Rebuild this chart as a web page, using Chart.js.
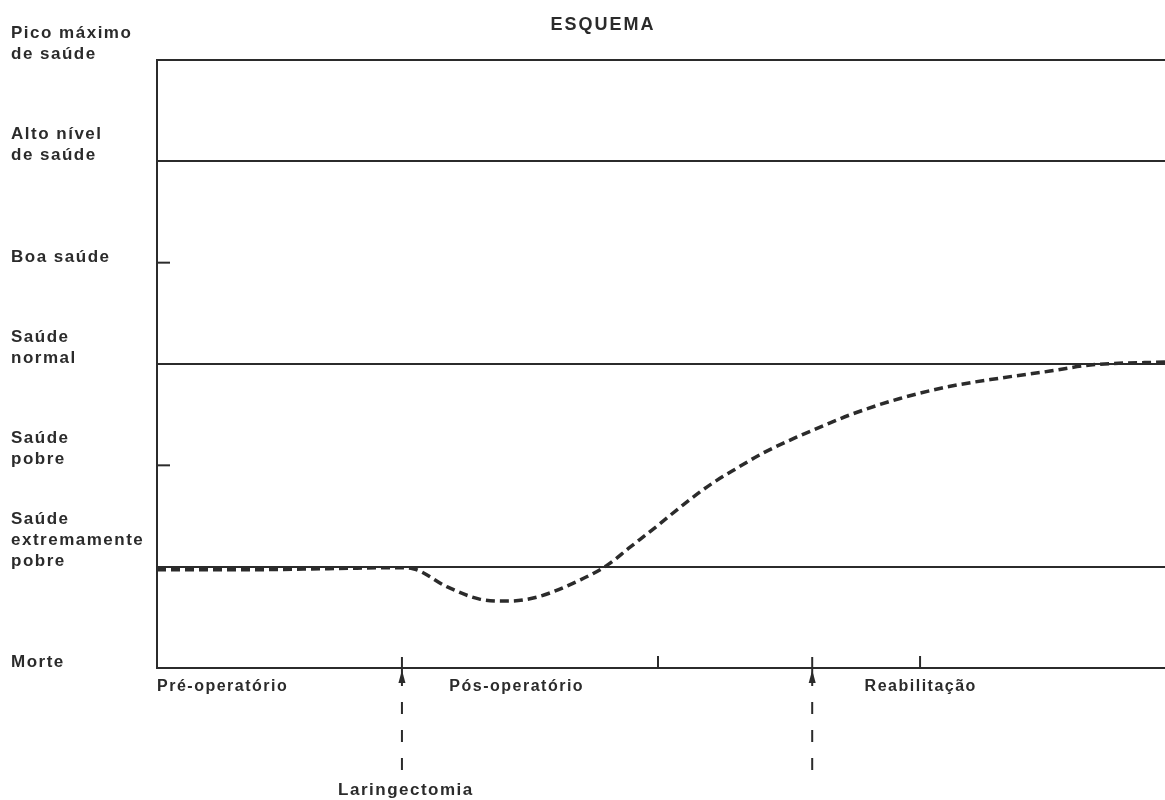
<!DOCTYPE html>
<html>
<head>
<meta charset="utf-8">
<script src="https://cdn.jsdelivr.net/npm/chart.js@4"></script>
<style>
  body { margin: 0; background: #fff; }
</style>
</head>
<body>
<canvas id="esquema" width="1165" height="800"></canvas>
<script>
// níveis de saúde (0 = Morte ... 6 = Pico máximo)
const levelLabels = [
  ["Morte"],
  ["Saúde", "extremamente", "pobre"],
  ["Saúde", "pobre"],
  ["Saúde", "normal"],
  ["Boa saúde"],
  ["Alto nível", "de saúde"],
  ["Pico máximo", "de saúde"],
];
const gridLevels = [1, 3, 5, 6];
const tickLevels = [2, 4];

// fases no eixo do tempo (0..100)
const phaseLabels = ["Pré-operatório", "Pós-operatório", "Reabilitação"];
const phaseStart = [0, 29, 70.2];
const eventX = [24.3, 65.0];
const eventLabels = ["Laringectomia", ""];
const minorTicksX = [49.7, 75.7];

// curva do estado de saúde
const curveX = [0, 9, 17, 24, 25.4, 28.8, 32, 34.7, 37.7, 42, 44.6, 46.9, 49.6, 52.2, 54.9, 57.5, 60.1, 63.5, 66.1, 68.8, 73.7, 78.7, 83.6, 88.6, 92.6, 100];
const curveY = [0.97, 0.97, 0.98, 0.99, 0.98, 0.8, 0.68, 0.66, 0.7, 0.87, 1.01, 1.19, 1.4, 1.61, 1.81, 1.97, 2.12, 2.28, 2.39, 2.5, 2.66, 2.78, 2.86, 2.93, 2.99, 3.02];

const ink = "#2b2b2b";
const font = '"Liberation Sans", Arial, sans-serif';

const drawExtras = {
  id: "drawExtras",
  afterDraw(chart) {
    const ctx = chart.ctx;
    const x = chart.scales.x;
    const y = chart.scales.y;
    const area = chart.chartArea;
    ctx.save();
    ctx.fillStyle = ink;
    ctx.strokeStyle = ink;

    // título
    ctx.letterSpacing = "2px";
    ctx.font = "bold 18px " + font;
    ctx.textAlign = "center";
    ctx.textBaseline = "alphabetic";
    ctx.fillText("ESQUEMA", 603, 30);

    // rótulos dos níveis
    ctx.letterSpacing = "1.5px";
    ctx.font = "bold 17px " + font;
    ctx.textAlign = "left";
    levelLabels.forEach((lines, i) => {
      const py = y.getPixelForValue(i) - 1;
      lines.forEach((t, j) => {
        ctx.fillText(t, 11, py - (lines.length - 1 - j) * 21);
      });
    });

    // marcas curtas no eixo y
    ctx.lineWidth = 2;
    tickLevels.forEach((v) => {
      const py = y.getPixelForValue(v);
      ctx.beginPath();
      ctx.moveTo(area.left, py);
      ctx.lineTo(area.left + 13, py);
      ctx.stroke();
    });

    // marcas curtas no eixo x
    minorTicksX.forEach((v) => {
      const px = x.getPixelForValue(v);
      ctx.beginPath();
      ctx.moveTo(px, area.bottom);
      ctx.lineTo(px, area.bottom - 12);
      ctx.stroke();
    });

    // setas dos eventos
    eventX.forEach((v, i) => {
      const px = x.getPixelForValue(v);
      const b = area.bottom;
      ctx.lineWidth = 2;
      ctx.beginPath();
      ctx.moveTo(px, b - 11);
      ctx.lineTo(px, b + 18);
      ctx.stroke();
      ctx.beginPath();
      ctx.moveTo(px, b + 2);
      ctx.lineTo(px - 3.5, b + 15);
      ctx.lineTo(px + 3.5, b + 15);
      ctx.closePath();
      ctx.fill();
      ctx.setLineDash([12, 16]);
      ctx.beginPath();
      ctx.moveTo(px, b + 34);
      ctx.lineTo(px, b + 104);
      ctx.stroke();
      ctx.setLineDash([]);
      if (eventLabels[i]) {
        ctx.font = "bold 17px " + font;
        ctx.textAlign = "center";
        ctx.fillText(eventLabels[i], px + 4, b + 127);
      }
    });

    // rótulos das fases
    ctx.font = "bold 16px " + font;
    ctx.textAlign = "left";
    phaseLabels.forEach((t, i) => {
      ctx.fillText(t, x.getPixelForValue(phaseStart[i]), area.bottom + 23);
    });
    ctx.restore();
  },
};

new Chart(document.getElementById("esquema"), {
  type: "line",
  data: {
    datasets: [
      {
        data: curveX.map((v, i) => ({ x: v, y: curveY[i] })),
        borderColor: ink,
        borderWidth: 3.5,
        borderDash: [9, 5],
        pointRadius: 0,
        cubicInterpolationMode: "monotone",
        fill: false,
      },
    ],
  },
  options: {
    responsive: false,
    animation: false,
    layout: { padding: { left: 157, right: 0, top: 60, bottom: 132 } },
    plugins: { legend: { display: false }, tooltip: { enabled: false } },
    scales: {
      x: {
        type: "linear",
        min: 0,
        max: 100,
        ticks: { display: false },
        grid: { display: false },
        border: { display: true, color: ink, width: 2 },
        afterFit: (s) => { s.height = 0; },
      },
      y: {
        type: "linear",
        min: 0,
        max: 6,
        ticks: { display: false, stepSize: 1 },
        grid: {
          drawTicks: false,
          lineWidth: 2,
          color: (c) => (gridLevels.includes(c.tick.value) ? ink : "rgba(0,0,0,0)"),
        },
        border: { display: true, color: ink, width: 2 },
        afterFit: (s) => { s.width = 0; },
      },
    },
  },
  plugins: [drawExtras],
});
</script>
</body>
</html>
